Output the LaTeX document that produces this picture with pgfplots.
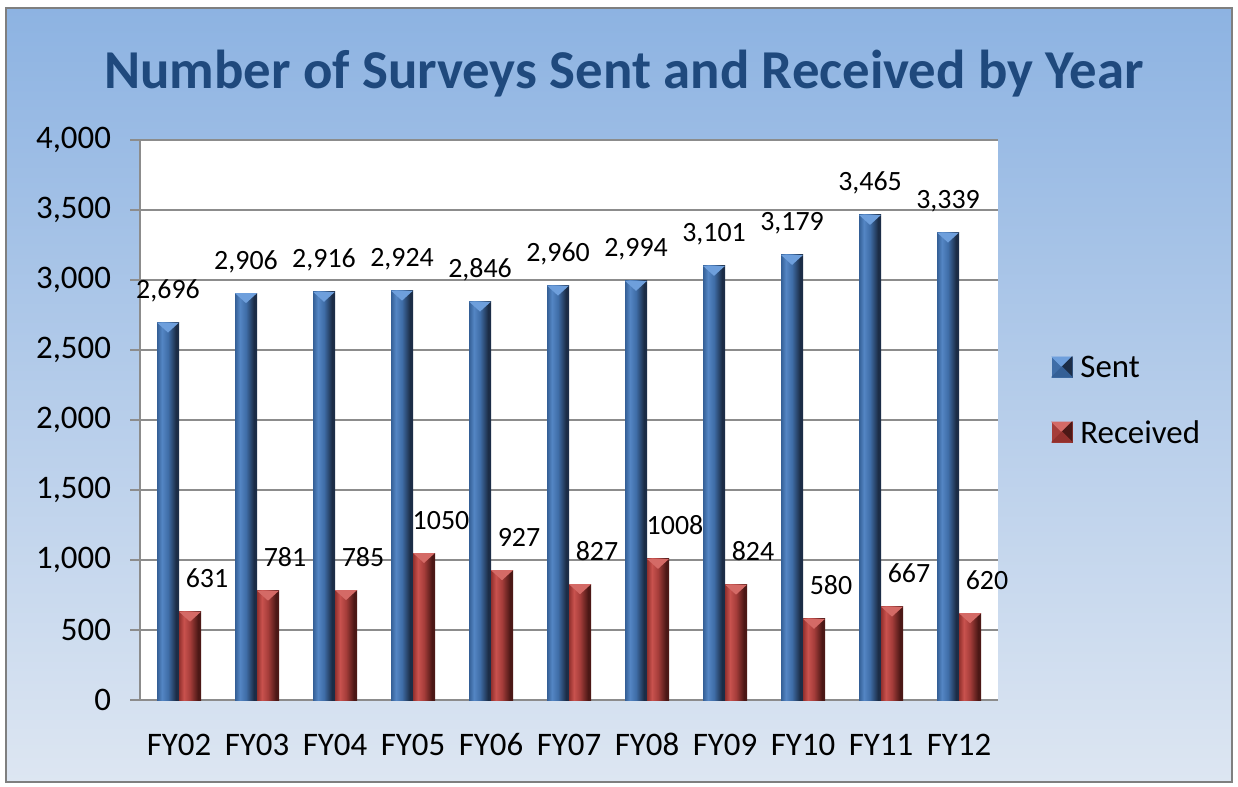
\documentclass[border=0pt]{standalone}
\usepackage{pgfplots}
\usepackage{pgfplotstable}
\pgfplotsset{compat=1.18}
\usepackage{fontspec}
\setmainfont{Carlito}
\definecolor{titleblue}{HTML}{1F497D}
\definecolor{bgtop}{HTML}{8DB3E2}
\definecolor{bgbot}{HTML}{DDE6F2}
\definecolor{gridgray}{HTML}{8C8C8C}
\definecolor{bordergray}{HTML}{7F7F7F}
\definecolor{sA}{HTML}{345F96}
\definecolor{sB}{HTML}{5486C4}
\definecolor{sC}{HTML}{3F6DA7}
\definecolor{sD}{HTML}{1C2D47}
\definecolor{rA}{HTML}{92302D}
\definecolor{rB}{HTML}{C9524E}
\definecolor{rC}{HTML}{A53D3A}
\definecolor{rD}{HTML}{4C1816}
\definecolor{scap}{HTML}{6E9FDC}
\definecolor{rcap}{HTML}{D46A66}
\pgfdeclarehorizontalshading{sentshade}{100bp}{color(0bp)=(sA);color(25bp)=(sA);color(36bp)=(sB);color(50bp)=(sC);color(68bp)=(sD);color(75bp)=(sD);color(100bp)=(sD)}
\pgfdeclarehorizontalshading{recshade}{100bp}{color(0bp)=(rA);color(25bp)=(rA);color(36bp)=(rB);color(50bp)=(rC);color(68bp)=(rD);color(75bp)=(rD);color(100bp)=(rD)}
\pgfdeclareplotmark{sentcap}{\pgfpathmoveto{\pgfqpoint{-11bp}{0bp}}\pgfpathlineto{\pgfqpoint{0bp}{0bp}}\pgfpathlineto{\pgfqpoint{-5.5bp}{-5bp}}\pgfpathclose\pgfusepathqfill}
\pgfdeclareplotmark{reccap}{\pgfpathmoveto{\pgfqpoint{0bp}{0bp}}\pgfpathlineto{\pgfqpoint{11bp}{0bp}}\pgfpathlineto{\pgfqpoint{5.5bp}{-5bp}}\pgfpathclose\pgfusepathqfill}

\pgfplotstableread{
x sent slab rec rlab
0 2696 2,696 631 631
1 2906 2,906 781 781
2 2916 2,916 785 785
3 2924 2,924 1050 1050
4 2846 2,846 927 927
5 2960 2,960 827 827
6 2994 2,994 1008 1008
7 3101 3,101 824 824
8 3179 3,179 580 580
9 3465 3,465 667 667
10 3339 3,339 620 620
}\datatable

\begin{document}
\begin{tikzpicture}[x=1bp,y=1bp]
\useasboundingbox (0,0) rectangle (619,393);
\fill[white] (0,0) rectangle (619,393);
\shade[top color=bgtop, bottom color=bgbot] (3,2) rectangle (616,389);
\draw[bordergray, line width=1.2bp] (3,2) rectangle (616,389);
\node[font=\fontsize{27.5}{30}\selectfont\bfseries, text=titleblue, anchor=base] at (312,349) {Number of Surveys Sent and Received by Year};
\begin{axis}[
  at={(70bp,43bp)}, anchor=south west,
  scale only axis, width=429bp, height=280bp,
  axis background/.style={fill=white},
  xmin=-0.5, xmax=10.5, ymin=0, ymax=4000,
  ytick={0,500,...,4000},
  xtick={0,...,10},
  xticklabels={FY02,FY03,FY04,FY05,FY06,FY07,FY08,FY09,FY10,FY11,FY12},
  minor xtick={-0.5,0.5,...,10.5},
  axis lines*=left,
  axis line style={gridgray, line width=0.8bp},
  tick align=outside,
  major tick length=5bp, minor tick length=5bp,
  xtick style={draw=none},
  minor x tick style={gridgray, line width=0.8bp},
  ytick style={gridgray, line width=0.8bp},
  ymajorgrids, grid style={gridgray, line width=0.8bp},
  tick label style={font=\fontsize{16.5}{18}\selectfont, text=black},
  /pgf/number format/assume math mode=true,
  /pgf/number format/1000 sep={,},
  scaled y ticks=false,
  yticklabel style={xshift=-6bp},
  xticklabel style={anchor=base, yshift=-22.5bp},
  bar width=11bp,
  every node near coord/.append style={anchor=base, yshift=12bp, font=\fontsize{14}{16}\selectfont, text=black},
  legend style={at={(1.062,0.536)}, anchor=west, draw=none, fill=none,
    font=\fontsize{16.5}{18}\selectfont, row sep=21.5bp, inner sep=0pt,
    nodes={inner sep=0pt, text depth=0pt}},
  legend cell align=left,
]
\pgfplotsinvokeforeach{0,...,10}{
  \addplot[ybar, draw=none, shading=sentshade, bar shift=-5.5bp, forget plot,
    nodes near coords, point meta=explicit symbolic,
    restrict x to domain=#1:#1,
    every node near coord/.append style={xshift=-5.5bp}] table[x=x, y=sent, meta=slab] {\datatable};
  \addplot[ybar, draw=none, shading=recshade, bar shift=5.5bp, forget plot,
    nodes near coords, point meta=explicit symbolic,
    restrict x to domain=#1:#1,
    every node near coord/.append style={xshift=14bp}] table[x=x, y=rec, meta=rlab] {\datatable};
}
\addplot[only marks, mark=sentcap, mark options={fill=scap, draw=none}, forget plot] table[x=x, y=sent] {\datatable};
\addplot[only marks, mark=reccap, mark options={fill=rcap, draw=none}, forget plot] table[x=x, y=rec] {\datatable};
\addlegendimage{legend image code/.code={
  \fill[sC] (0bp,-5bp) rectangle (10bp,5bp);
  \fill[scap] (0bp,5bp) -- (10bp,5bp) -- (5bp,0bp) -- cycle;
  \fill[sD] (10bp,5bp) -- (10bp,-5bp) -- (5bp,0bp) -- cycle;
  \fill[sA] (0bp,-5bp) -- (10bp,-5bp) -- (5bp,0bp) -- cycle;
  \path (14bp,0bp);}}
\addlegendimage{legend image code/.code={
  \fill[rC] (0bp,-5bp) rectangle (10bp,5bp);
  \fill[rcap] (0bp,5bp) -- (10bp,5bp) -- (5bp,0bp) -- cycle;
  \fill[rD] (10bp,5bp) -- (10bp,-5bp) -- (5bp,0bp) -- cycle;
  \fill[rA] (0bp,-5bp) -- (10bp,-5bp) -- (5bp,0bp) -- cycle;
  \path (14bp,0bp);}}
\legend{Sent, Received}
\end{axis}
\end{tikzpicture}
\end{document}
